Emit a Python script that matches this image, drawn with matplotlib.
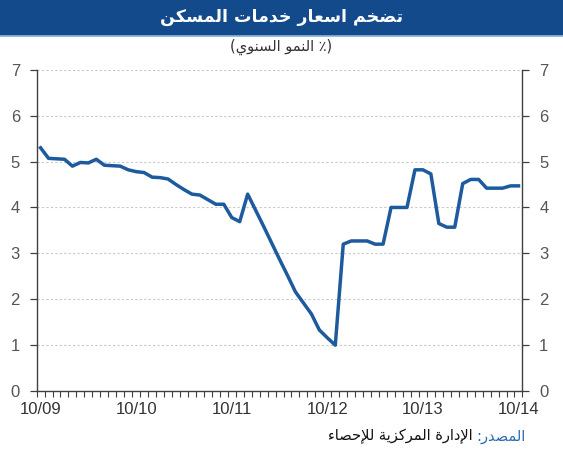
import numpy as np
import matplotlib
matplotlib.use("Agg")
import matplotlib.pyplot as plt
from matplotlib.patches import Rectangle
from matplotlib.lines import Line2D

# ---- data (monthly, 10/2009 .. 10/2014) ----
values = [5.30, 5.07, 5.06, 5.05, 4.90, 4.98, 4.97, 5.05, 4.92, 4.91,
          4.90, 4.82, 4.78, 4.76, 4.66, 4.65, 4.62, 4.50, 4.39, 4.29,
          4.27, 4.17, 4.07, 4.07, 3.78, 3.69, 4.29, 3.94, 3.59, 3.23,
          2.87, 2.52, 2.16, 1.92, 1.68, 1.33, 1.16, 1.00, 3.20, 3.27,
          3.27, 3.27, 3.20, 3.20, 4.00, 4.00, 4.00, 4.82, 4.82, 4.73,
          3.65, 3.57, 3.57, 4.52, 4.61, 4.61, 4.42, 4.42, 4.42, 4.47,
          4.47]
tick_labels = ["10/09", "10/10", "10/11", "10/12", "10/13", "10/14"]
y_ticks = [0, 1, 2, 3, 4, 5, 6, 7]

title = "تضخم اسعار خدمات المسكن"
subtitle = "(٪ النمو السنوي)"
source_head = "المصدر:"
source_body = "الإدارة المركزية للإحصاء"

# ---- tiny arabic shaping (matplotlib has no text shaping) ----
FORMS = {
    'ء': ('\uFE80', None, None, None),
    'ا': ('\uFE8D', '\uFE8E', None, None),
    'إ': ('\uFE87', '\uFE88', None, None),
    'ة': ('\uFE93', '\uFE94', None, None),
    'ت': ('\uFE95', '\uFE96', '\uFE97', '\uFE98'),
    'ح': ('\uFEA1', '\uFEA2', '\uFEA3', '\uFEA4'),
    'خ': ('\uFEA5', '\uFEA6', '\uFEA7', '\uFEA8'),
    'د': ('\uFEA9', '\uFEAA', None, None),
    'ر': ('\uFEAD', '\uFEAE', None, None),
    'ز': ('\uFEAF', '\uFEB0', None, None),
    'س': ('\uFEB1', '\uFEB2', '\uFEB3', '\uFEB4'),
    'ص': ('\uFEB9', '\uFEBA', '\uFEBB', '\uFEBC'),
    'ض': ('\uFEBD', '\uFEBE', '\uFEBF', '\uFEC0'),
    'ع': ('\uFEC9', '\uFECA', '\uFECB', '\uFECC'),
    'ك': ('\uFED9', '\uFEDA', '\uFEDB', '\uFEDC'),
    'ل': ('\uFEDD', '\uFEDE', '\uFEDF', '\uFEE0'),
    'م': ('\uFEE1', '\uFEE2', '\uFEE3', '\uFEE4'),
    'ن': ('\uFEE5', '\uFEE6', '\uFEE7', '\uFEE8'),
    'و': ('\uFEED', '\uFEEE', None, None),
    'ي': ('\uFEF1', '\uFEF2', '\uFEF3', '\uFEF4'),
}
LAM_ALEF = {'ا': ('\uFEFB', '\uFEFC'), 'إ': ('\uFEF9', '\uFEFA')}
MIRROR = {'(': ')', ')': '('}


def joins_next(c):
    return c in FORMS and FORMS[c][2] is not None


def joinable(c):
    return c in FORMS and FORMS[c][1] is not None


def rtl(s):
    out = []
    i = 0
    n = len(s)
    while i < n:
        c = s[i]
        if c not in FORMS:
            out.append(MIRROR.get(c, c))
            i += 1
            continue
        prev = s[i - 1] if i > 0 else None
        link_prev = prev is not None and joins_next(prev) and joinable(c)
        if c == 'ل' and i + 1 < n and s[i + 1] in LAM_ALEF:
            out.append(LAM_ALEF[s[i + 1]][1 if link_prev else 0])
            i += 2
            continue
        nxt = s[i + 1] if i + 1 < n else None
        link_next = nxt is not None and joins_next(c) and joinable(nxt)
        iso, fin, ini, med = FORMS[c]
        if link_prev and link_next:
            out.append(med)
        elif link_prev:
            out.append(fin)
        elif link_next:
            out.append(ini)
        else:
            out.append(iso)
        i += 1
    return ''.join(out)[::-1]


# ---- figure ----
fig = plt.figure(figsize=(5.63, 4.5), dpi=100)
ax = fig.add_axes([0.065, 0.131, 0.863, 0.714])

x = np.arange(len(values))
ax.plot(x, values, color="#1d5a9e", lw=2.5, solid_joinstyle="round", zorder=3)

ax.set_xlim(-0.5, len(values) - 0.5)
ax.set_ylim(0, 7)
ax.set_yticks(y_ticks)
ax.set_yticklabels([str(v) for v in y_ticks])
ax.grid(axis="y", linestyle=(0, (2, 2)), color="#c8c8c8", lw=0.8)
ax.set_axisbelow(True)

# category boundary ticks + year labels
ax.set_xticks(np.arange(-0.5, len(values), 1))
ax.set_xticklabels([])
ax.set_xticks(np.arange(0, len(values), 12), minor=True)
ax.set_xticklabels(tick_labels, minor=True)
ax.tick_params(axis="x", which="major", length=4, width=0.8, color="#404040", direction="out")
ax.tick_params(axis="x", which="minor", length=0, pad=8, labelsize=12, labelcolor="#333333")
ax.tick_params(axis="y", length=5, width=0.9, color="#404040", pad=7,
               labelsize=12, labelcolor="#555555", right=True, labelright=True)

for s in ["left", "right", "bottom"]:
    ax.spines[s].set_color("#404040")
    ax.spines[s].set_linewidth(1.0)
ax.spines["top"].set_visible(False)

for lab in ax.get_xticklabels(minor=True) + ax.get_yticklabels():
    lab.set_family("Liberation Sans")

# banner
fig.add_artist(Rectangle((0, 1 - 35 / 450), 1, 35 / 450, transform=fig.transFigure,
                         color="#134a8c", zorder=0))
fig.add_artist(Line2D([0, 1], [1 - 35.5 / 450] * 2, transform=fig.transFigure,
                      color="#8fb4dc", lw=1.2))
fig.text(0.5, 1 - 17 / 450, rtl(title), color="white", fontsize=12.5, fontweight="bold",
         ha="center", va="center", family="DejaVu Sans")
fig.text(0.5, 1 - 47 / 450, rtl(subtitle), color="#333333", fontsize=10.5,
         ha="center", va="center", family="DejaVu Sans")

# source line
head = fig.text(525 / 563, 1 - 436 / 450, rtl(source_head), color="#2b6cb4", fontsize=10.5,
                ha="right", va="center", family="DejaVu Sans")
fig.canvas.draw()
bb = head.get_window_extent(renderer=fig.canvas.get_renderer())
fig.text(bb.x0 / fig.bbox.width - 3 / 563, 1 - 436 / 450, rtl(source_body), color="#111111",
         fontsize=10.5, ha="right", va="center", family="DejaVu Sans")

fig.savefig("out.png", dpi=100)
